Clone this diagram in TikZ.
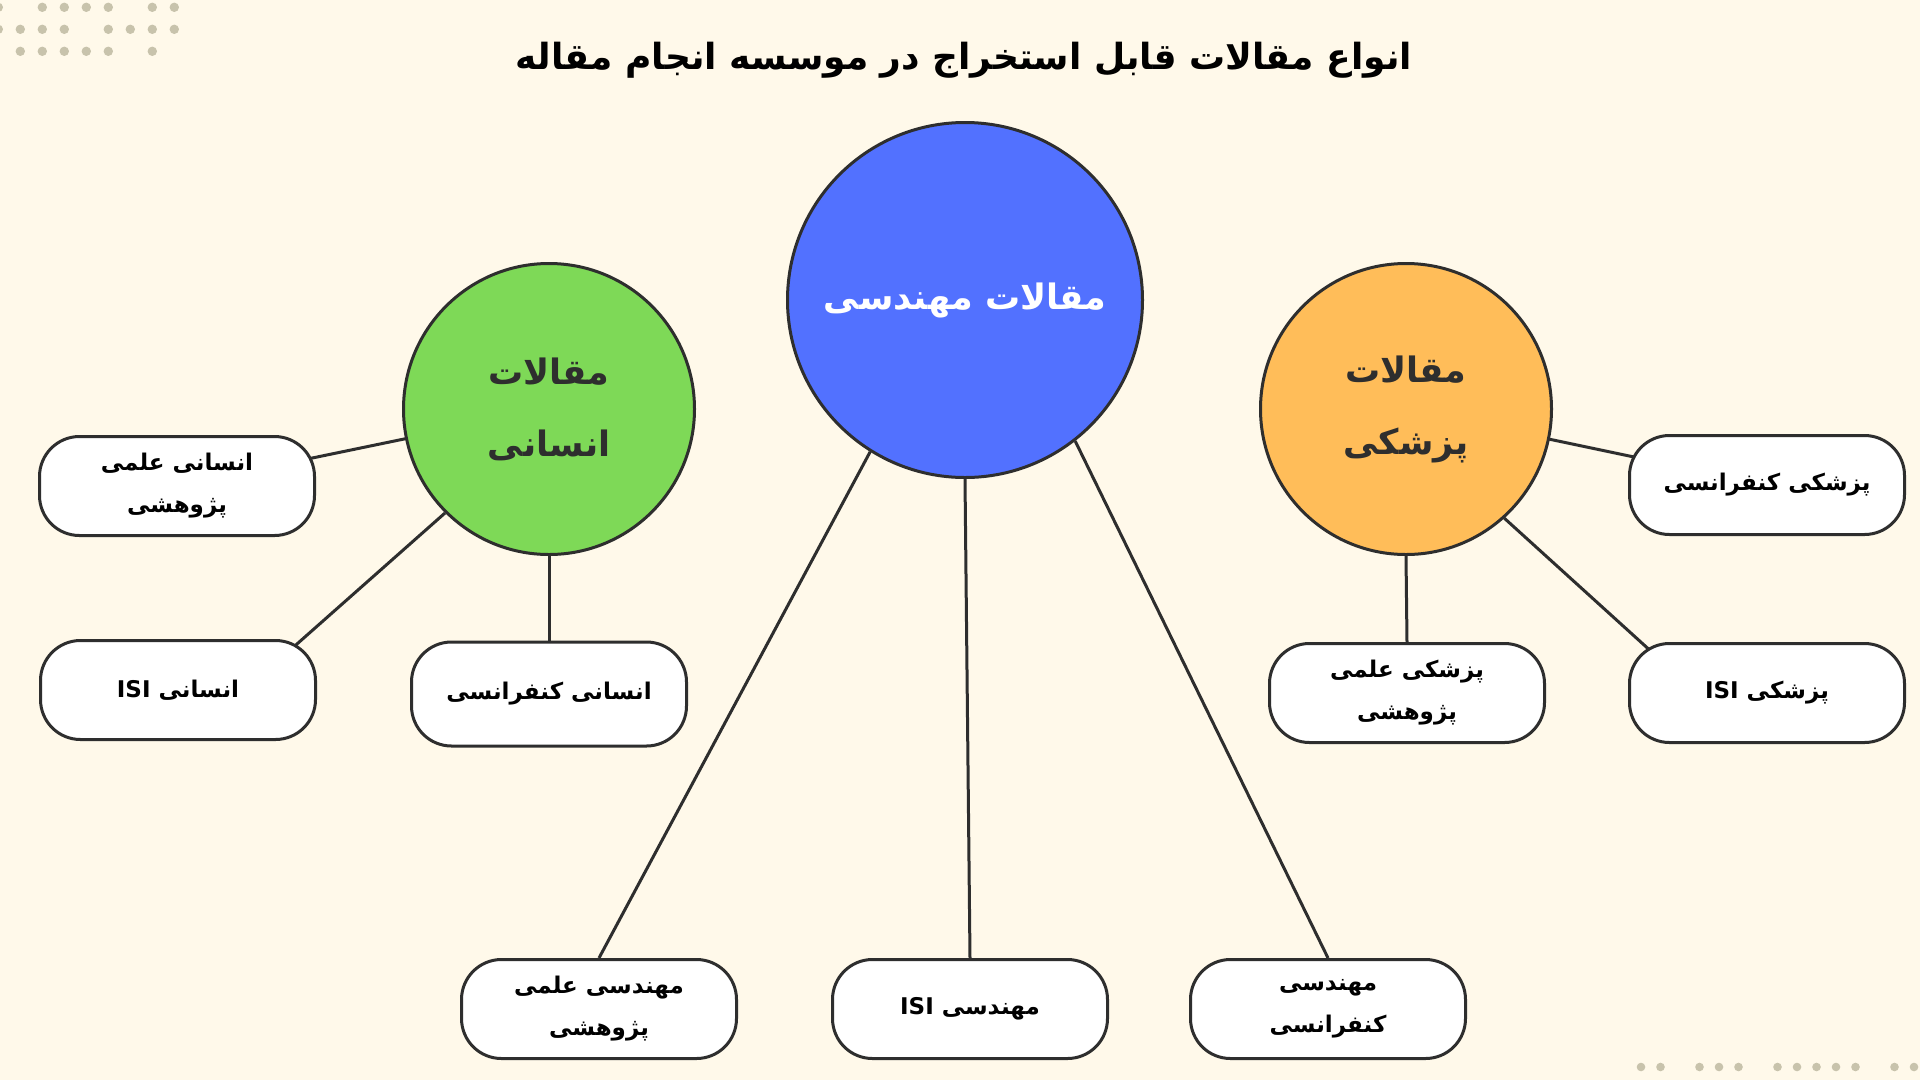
\documentclass[tikz,border=0pt]{standalone}
\usepackage{fontspec}
\usepackage{tikz}
\usetikzlibrary{backgrounds}
\newfontfamily\farsi[Script=Arabic]{DejaVu Sans}
\TeXXeTstate=1
\newcommand{\fa}[1]{\beginR #1\endR}
\newcommand{\lat}[1]{\beginL #1\endL{}}
\definecolor{paper}{HTML}{FFF9EA}
\definecolor{dotc}{HTML}{C8C3AC}
\definecolor{ink}{HTML}{2E2E2E}
\definecolor{engblue}{HTML}{5271FF}
\definecolor{humgreen}{HTML}{7ED957}
\definecolor{medorange}{HTML}{FFBD59}
\tikzset{
	hub/.style={circle, draw=ink, line width=3pt, inner sep=0pt, text=ink, align=center,
		font=\farsi\bfseries\fontsize{35}{72}\selectfont},
	leaf/.style={rectangle, rounded corners=40pt, draw=ink, fill=white, line width=3pt,
		minimum width=275pt, minimum height=99pt, align=center, text=black,
		font=\farsi\bfseries\fontsize{23}{42}\selectfont},
	conn/.style={draw=ink, line width=3pt},
	dot/.style={fill=dotc}
}
\begin{document}
\begin{tikzpicture}[x=1pt,y=-1pt]
			\useasboundingbox (0,0) rectangle (1920,1080);
			\node[font=\farsi\bfseries\fontsize{36}{44}\selectfont, text=black] (title) at (964,60) {\fa{انواع مقالات قابل استخراج در موسسه انجام مقاله}};
			\node[hub, minimum size=355pt, fill=engblue, text=white] (eng) at (965,300) {\fa{مقالات مهندسی}};
			\node[hub, minimum size=291pt, fill=humgreen] (hum) at (549,409) {\fa{مقالات}\\\fa{انسانی}};
			\node[hub, minimum size=291pt, fill=medorange] (med) at (1406,409) {\fa{مقالات}\\\fa{پزشکی}};
			\node[leaf] (hbox1) at (177,486) {\fa{انسانی علمی}\\\fa{پژوهشی}};
			\node[leaf] (hbox2) at (178,690) {\fa{انسانی \lat{ISI}}};
			\node[leaf, minimum height=104pt] (hbox3) at (549,694) {\fa{انسانی کنفرانسی}};
			\node[leaf] (pbox1) at (1767,485) {\fa{پزشکی کنفرانسی}};
			\node[leaf] (pbox2) at (1767,693) {\fa{پزشکی \lat{ISI}}};
			\node[leaf] (pbox3) at (1407,693) {\fa{پزشکی علمی}\\\fa{پژوهشی}};
			\node[leaf] (ebox1) at (599,1009) {\fa{مهندسی علمی}\\\fa{پژوهشی}};
			\node[leaf] (ebox2) at (970,1009) {\fa{مهندسی \lat{ISI}}};
			\node[leaf] (ebox3) at (1328,1009) {\fa{مهندسی}\\\fa{کنفرانسی}};
			\begin{pgfonlayer}{background}
				\fill[paper] (0,0) rectangle (1920,1080);
				\foreach \c in {0,2,3,4,5,7,8} \fill[dot] (-1.7+22*\c,7.3) circle (4.7);
				\foreach \c in {0,1,2,3,5,6,7,8} \fill[dot] (-1.7+22*\c,29.3) circle (4.7);
				\foreach \c in {1,2,3,4,5,7} \fill[dot] (-1.7+22*\c,51.3) circle (4.7);
				\foreach \c in {0,1,3,4,5,7,8,9,10,11,13,14} \fill[dot] (1641+19.5*\c,1067) circle (4.3);
				\path[conn]
				(eng.238) edge (ebox1.north)
				(eng.south) edge (ebox2.north)
				(eng.308) edge (ebox3.north)
				(hum.center) edge (hbox1.center)
				(hum.225) edge ([xshift=67pt]hbox2.center)
				(hum.south) edge (hbox3.north)
				(med.center) edge (pbox1.center)
				(med.312) edge ([xshift=-70pt]pbox2.center)
				(med.south) edge (pbox3.north);
			\end{pgfonlayer}
		\end{tikzpicture}
\end{document}
